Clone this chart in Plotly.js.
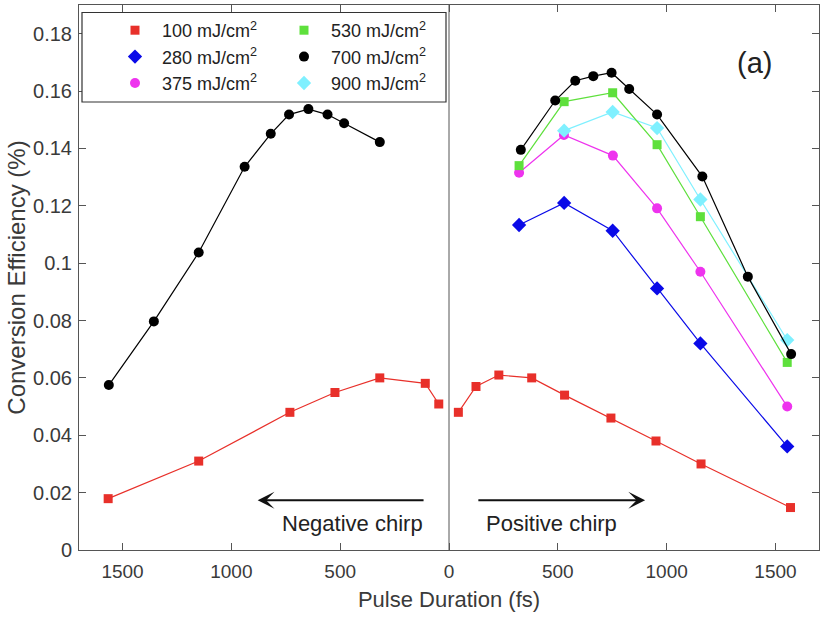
<!DOCTYPE html>
<html>
<head>
<meta charset="utf-8">
<script src="https://cdn.plot.ly/plotly-3.0.1.min.js"></script>
<style>html,body{margin:0;padding:0;background:#fff;}#chart{width:828px;height:618px;}</style>
</head>
<body>
<div id="chart"></div>
<script>
// ---- data (x: signed pulse duration in fs; negative = negative chirp) ----
const xNeg100 = [-1566, -1150, -731, -524, -318, -109, -47];
const yNeg100 = [0.0179, 0.0310, 0.0480, 0.0549, 0.0600, 0.0581, 0.0509];
const xPos100 = [43, 124, 229, 380, 531, 744, 951, 1158, 1569];
const yPos100 = [0.0480, 0.0570, 0.0610, 0.0600, 0.0540, 0.0460, 0.0380, 0.0300, 0.0148];

const xNeg700 = [-1563, -1356, -1150, -939, -819, -735, -646, -558, -482, -318];
const yNeg700 = [0.0575, 0.0797, 0.1037, 0.1336, 0.1451, 0.1518, 0.1537, 0.1518, 0.1488, 0.1422];
const xPos700 = [330, 488, 580, 663, 747, 828, 956, 1164, 1373, 1572];
const yPos700 = [0.1395, 0.1567, 0.1636, 0.1652, 0.1664, 0.1607, 0.1518, 0.1302, 0.0953, 0.0683];

const x280 = [322, 529, 752, 956, 1155, 1554];
const y280 = [0.1133, 0.1210, 0.1113, 0.0912, 0.0720, 0.0361];

const x375 = [322, 528, 753, 956, 1155, 1554];
const y375 = [0.1315, 0.1447, 0.1375, 0.1191, 0.0970, 0.0500];

const x530 = [322, 529, 752, 956, 1155, 1554];
const y530 = [0.1340, 0.1563, 0.1594, 0.1413, 0.1162, 0.0654];

const x900 = [529, 752, 956, 1155, 1554];
const y900 = [0.1462, 0.1527, 0.1471, 0.1222, 0.0732];

const xTickVals = [-1500, -1000, -500, 0, 500, 1000, 1500];
const xTickText = ['1500', '1000', '500', '0', '500', '1000', '1500'];
const yTickVals = [0, 0.02, 0.04, 0.06, 0.08, 0.1, 0.12, 0.14, 0.16, 0.18];

const names = {
  f100: '100 mJ/cm<sup>2</sup>', f280: '280 mJ/cm<sup>2</sup>', f375: '375 mJ/cm<sup>2</sup>',
  f530: '530 mJ/cm<sup>2</sup>', f700: '700 mJ/cm<sup>2</sup>', f900: '900 mJ/cm<sup>2</sup>'
};
const colors = {
  f100: '#e8302a', f280: '#0a0ae8', f375: '#ee33ee',
  f530: '#5ee03c', f700: '#000000', f900: '#7ff0ff'
};
const symbols = {
  f100: 'square', f280: 'diamond', f375: 'circle',
  f530: 'square', f700: 'circle', f900: 'diamond'
};
const sizes = {f100: 9, f280: 11, f375: 10, f530: 9, f700: 10, f900: 11};

function series(key, xs, ys) {
  return {
    x: xs, y: ys, type: 'scatter', mode: 'lines+markers', showlegend: false,
    line: {color: colors[key], width: 1.2},
    marker: {color: colors[key], symbol: symbols[key], size: sizes[key]},
    hoverinfo: 'x+y'
  };
}
function legendEntry(key, group) {
  return {
    x: [null], y: [null], type: 'scatter', mode: 'markers', name: names[key],
    legendgroup: group, showlegend: true,
    marker: {color: colors[key], symbol: symbols[key], size: sizes[key]}
  };
}

const traces = [
  series('f100', xNeg100, yNeg100),
  series('f100', xPos100, yPos100),
  series('f280', x280, y280),
  series('f375', x375, y375),
  series('f900', x900, y900),
  series('f530', x530, y530),
  series('f700', xNeg700, yNeg700),
  series('f700', xPos700, yPos700),
  legendEntry('f100', 'a'), legendEntry('f280', 'a'), legendEntry('f375', 'a'),
  legendEntry('f530', 'b'), legendEntry('f700', 'b'), legendEntry('f900', 'b')
];

const fontFam = 'Liberation Sans, Arial, Helvetica, sans-serif';
const axisCol = '#555';
const layout = {
  width: 828, height: 618,
  margin: {l: 79, r: 9, t: 5, b: 68},
  paper_bgcolor: '#fff', plot_bgcolor: '#fff',
  font: {family: fontFam, color: '#333', size: 18},
  showlegend: true,
  legend: {
    orientation: 'h', x: (108 - 79) / 740, y: (550 - 12) / 545, xanchor: 'left', yanchor: 'top',
    bgcolor: 'rgba(0,0,0,0)', borderwidth: 0,
    font: {family: fontFam, size: 18, color: '#222'},
    tracegroupgap: 0, itemwidth: 44, entrywidth: 110, entrywidthmode: 'pixels'
  },
  xaxis: {
    range: [-1700, 1700], tickvals: xTickVals, ticktext: xTickText,
    ticks: 'inside', ticklen: 7, tickcolor: axisCol, mirror: 'ticks',
    showline: true, linecolor: axisCol, linewidth: 1, showgrid: false, zeroline: false,
    tickfont: {size: 19, color: '#3a3a3a'}, ticklabelstandoff: 4,
    title: {text: 'Pulse Duration (fs)', font: {size: 22, color: '#3a3a3a'}, standoff: 10}
  },
  yaxis: {
    range: [0, 0.19], tickvals: yTickVals,
    ticks: 'inside', ticklen: 7, tickcolor: axisCol, mirror: 'ticks',
    showline: true, linecolor: axisCol, linewidth: 1, showgrid: false, zeroline: false,
    tickfont: {size: 20, color: '#3a3a3a'}, ticklabelstandoff: 2,
    title: {text: 'Conversion Efficiency (%)', font: {size: 24, color: '#3a3a3a'}, standoff: 0}
  },
  shapes: [
    {type: 'line', xref: 'x', yref: 'paper', x0: 0, x1: 0, y0: 0, y1: 1,
     line: {color: axisCol, width: 1}},
    {type: 'rect', xref: 'paper', yref: 'paper', layer: 'above',
     x0: (82 - 79) / 740, x1: (446 - 79) / 740, y0: (550 - 102) / 545, y1: (550 - 12.5) / 545,
     fillcolor: '#fff', line: {color: '#333', width: 1.2}}
  ],
  annotations: [
    {xref: 'paper', yref: 'paper', x: (774 - 79) / 740, y: (550 - 45) / 545, text: '(a)', showarrow: false,
     font: {size: 29, color: '#222'}},
    {xref: 'x', yref: 'y', x: -879, y: 0.01735, ax: -110, ay: 0.01735, axref: 'x', ayref: 'y',
     text: '', showarrow: true, arrowhead: 3, arrowsize: 1.4, arrowwidth: 2, arrowcolor: '#111'},
    {xref: 'x', yref: 'y', x: 901, y: 0.01735, ax: 128, ay: 0.01735, axref: 'x', ayref: 'y',
     text: '', showarrow: true, arrowhead: 3, arrowsize: 1.4, arrowwidth: 2, arrowcolor: '#111'},
    {xref: 'x', yref: 'y', x: -445, y: 0.0093, text: 'Negative chirp', showarrow: false,
     font: {size: 22, color: '#222'}},
    {xref: 'x', yref: 'y', x: 470, y: 0.0093, text: 'Positive chirp', showarrow: false,
     font: {size: 22, color: '#222'}}
  ]
};

Plotly.newPlot('chart', traces, layout, {displayModeBar: false, staticPlot: true});
</script>
</body>
</html>
